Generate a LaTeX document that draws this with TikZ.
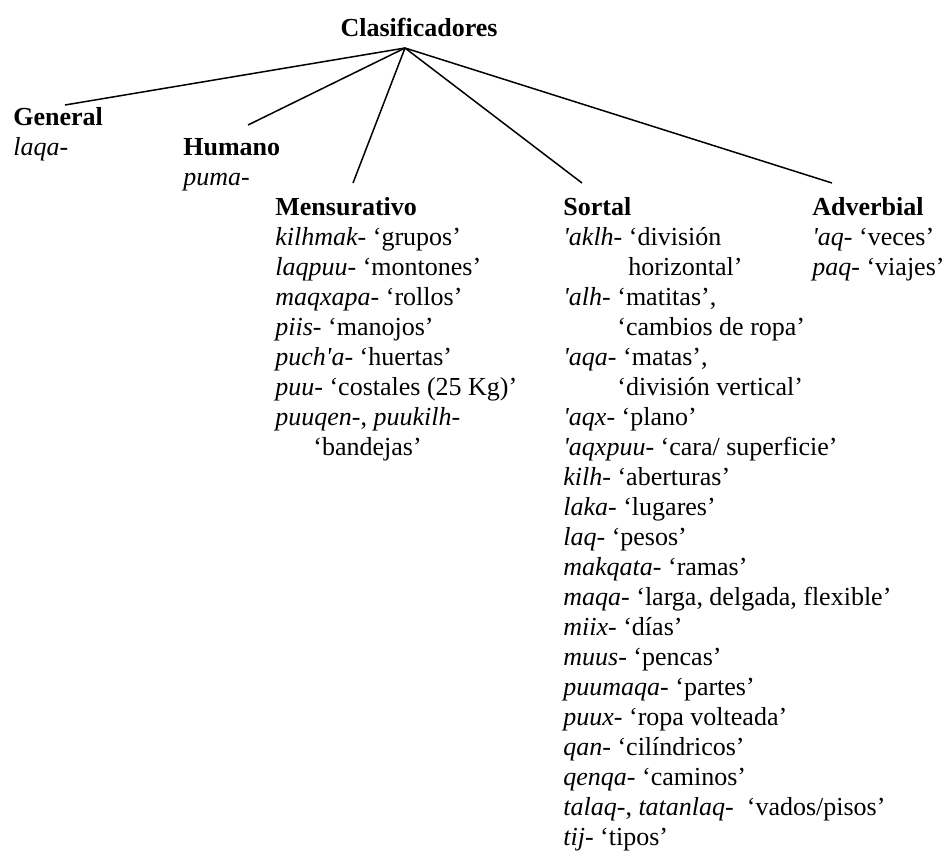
\documentclass[tikz,border=0pt]{standalone}
\usepackage{fontspec}
\setmainfont{Liberation Serif}
\usepackage{tikz}
\usetikzlibrary{positioning}

\begin{document}
\begin{tikzpicture}[x=0.5pt,y=-0.5pt]

 \tikzset{clase/.style={
 		anchor=base west,
 		align=left,
 		inner sep=0pt,
 		font=\fontsize{13}{15}\selectfont
 	},
 	rama/.style={line width=0.75pt}
 }
 \useasboundingbox (0,0) rectangle (946,852);

 % base = baseline of the last line
 \node[clase, anchor=base] (clas) at (419,36) {\textbf{Clasificadores}};

 \node[clase] (gen) at (13,155) {\textbf{General}\\ \textit{laqa-}};
 \node[clase] (hum) at (183,185) {\textbf{Humano}\\ \textit{puma-}};
 \node[clase] (mens) at (275,455) {\textbf{Mensurativo}\\
 	\textit{kilhmak-} `grupos'\\
 	\textit{laqpuu-} `montones'\\
 	\textit{maqxapa-} `rollos'\\
 	\textit{piis-} `manojos'\\
 	\textit{puch\textquotesingle a-} `huertas'\\
 	\textit{puu-} `costales (25 Kg)'\\
 	\textit{puuqen-}, \textit{puukilh-}\\
 	\hspace*{19pt}`bandejas'};
 \node[clase] (sort) at (563,845) {\textbf{Sortal}\\
 	\textit{\textquotesingle aklh-} `división\\
 	\hspace*{32.5pt}horizontal'\\
 	\textit{\textquotesingle alh-} `matitas',\\
 	\hspace*{27pt}`cambios de ropa'\\
 	\textit{\textquotesingle aqa-} `matas',\\
 	\hspace*{27pt}`división vertical'\\
 	\textit{\textquotesingle aqx-} `plano'\\
 	\textit{\textquotesingle aqxpuu-} `cara/ superficie'\\
 	\textit{kilh-} `aberturas'\\
 	\textit{laka-} `lugares'\\
 	\textit{laq-} `pesos'\\
 	\textit{makqata-} `ramas'\\
 	\textit{maqa-} `larga, delgada, flexible'\\
 	\textit{miix-} `días'\\
 	\textit{muus-} `pencas'\\
 	\textit{puumaqa-} `partes'\\
 	\textit{puux-} `ropa volteada'\\
 	\textit{qan-} `cilíndricos'\\
 	\textit{qenqa-} `caminos'\\
 	\textit{talaq-}, \textit{tatanlaq-}\ \ `vados/pisos'\\
 	\textit{tij-} `tipos'};
 \node[clase] (adv) at (812,275) {\textbf{Adverbial}\\
 	\textit{\textquotesingle aq-} `veces'\\
 	\textit{paq-} `viajes'};

 %ramas
 \coordinate (raiz) at (405,48);
 \coordinate (gen-top) at (65,105);
 \coordinate (hum-top) at (248,125);
 \coordinate (mens-top) at (353,183);
 \coordinate (sort-top) at (582,183);
 \coordinate (adv-top) at (832,183);
 \foreach \c in {gen,hum,mens,sort,adv}
 	\draw[rama] (raiz) -- (\c-top);
\end{tikzpicture}
\end{document}
